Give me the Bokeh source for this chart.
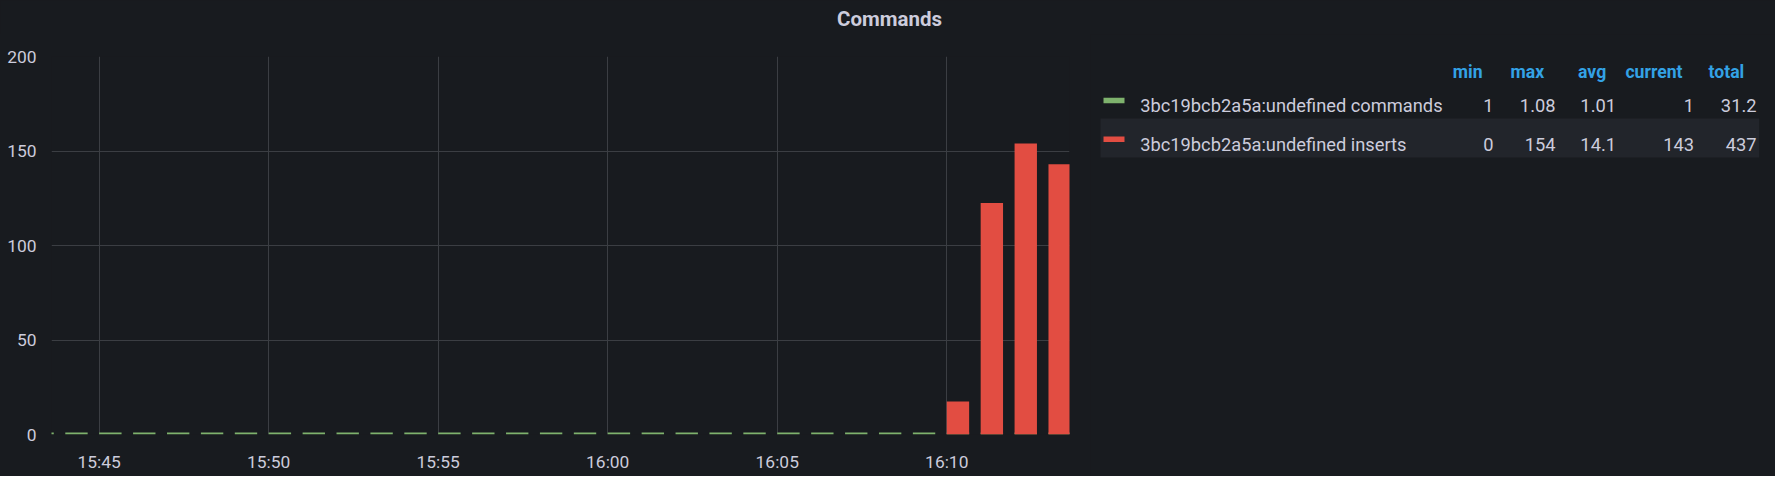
import pandas as pd
from bokeh.plotting import figure
from bokeh.models import Range1d, FixedTicker, DatetimeTickFormatter, ColumnDataSource
from bokeh.layouts import row, column
from bokeh.embed import file_html
from bokeh.resources import INLINE
from bokeh.core.properties import value

# ---------------- data ----------------
DAY = "2021-06-01 "
times = ["15:43", "15:44", "15:45", "15:46", "15:47", "15:48", "15:49", "15:50",
         "15:51", "15:52", "15:53", "15:54", "15:55", "15:56", "15:57", "15:58",
         "15:59", "16:00", "16:01", "16:02", "16:03", "16:04", "16:05", "16:06",
         "16:07", "16:08", "16:09", "16:10", "16:11", "16:12", "16:13"]
commands = [1, 1, 1, 1, 1, 1, 1, 1, 1, 1, 1, 1, 1, 1, 1, 1,
            1, 1, 1, 1, 1, 1, 1, 1, 1, 1, 1.03, 1.04, 1.08, 1.05, 1]
inserts = [0, 0, 0, 0, 0, 0, 0, 0, 0, 0, 0, 0, 0, 0, 0, 0,
           0, 0, 0, 0, 0, 0, 0, 0, 0, 0, 0, 17.5, 122.5, 154, 143]
x_tick_labels = ["15:45", "15:50", "15:55", "16:00", "16:05", "16:10"]
y_ticks = [0, 50, 100, 150, 200]

series_names = ["3bc19bcb2a5a:undefined commands", "3bc19bcb2a5a:undefined inserts"]
series_colors = ["#7eb26d", "#e24d42"]
stat_headers = ["min", "max", "avg", "current", "total"]
stat_min = ["1", "0"]
stat_max = ["1.08", "154"]
stat_avg = ["1.01", "14.1"]
stat_current = ["1", "143"]
stat_total = ["31.2", "437"]

TITLE = "Commands"

# ---------------- style ----------------
BG = "#181b1f"
GRID = "#3b3e43"
TEXT = "#ccccdc"
BLUE = "#33a2e5"
FONT = "Roboto"
BAR_MIN = 0.66  # bar width, fraction of a minute
W, H = 1775, 476
TH = 34          # title strip height
MW = 1090        # main chart figure width
DY = TH - 24     # vertical shift of legend contents vs. a 24px strip


def style_fig(f):
    if "frame_align" in f.properties():
        f.frame_align = False
    f.background_fill_color = BG
    f.border_fill_color = None          # avoid white seams from clearRect in SVG
    f.styles = {"background-color": BG}
    f.outline_line_color = None


# ---------------- title strip ----------------
tf = figure(width=W, height=TH, x_range=Range1d(0, W), y_range=Range1d(TH, 0),
            output_backend="svg", toolbar_location=None, min_border=0,
            x_axis_location=None, y_axis_location=None)
style_fig(tf)
tf.grid.visible = False
tf.text(x=[889], y=[18.5], text=[TITLE], text_font=value(FONT), text_font_style="bold",
        text_font_size=value("20.5px"), text_color=TEXT, text_align="center",
        text_baseline="alphabetic")

# ---------------- main chart ----------------
t = pd.to_datetime([DAY + s for s in times])
bw = pd.Timedelta(minutes=BAR_MIN)
src = ColumnDataSource(dict(left=t, right=t + bw, cmd=commands, ins=inserts))

x0 = pd.Timestamp(DAY + "15:43:35.6")
x1 = pd.Timestamp(DAY + "16:13:37.2")

p = figure(width=MW, height=H - TH, x_axis_type="datetime",
           x_range=Range1d(x0, x1), y_range=Range1d(0, 200),
           output_backend="svg", toolbar_location=None,
           min_border_left=51, min_border_right=MW - 1069, min_border_top=56 - TH,
           min_border_bottom=42)
style_fig(p)

p.quad(left="left", right="right", bottom=0, top="cmd", source=src,
       fill_color=series_colors[0], line_color=None)
p.quad(left="left", right="right", bottom=0, top="ins", source=src,
       fill_color=series_colors[1], line_color=None)

xt = [pd.Timestamp(DAY + s).value / 1e6 for s in x_tick_labels]
p.xaxis.ticker = FixedTicker(ticks=xt)
p.xaxis.formatter = DatetimeTickFormatter(minutes="%H:%M", hourmin="%H:%M", hours="%H:%M",
                                          minsec="%H:%M", seconds="%H:%M")
p.yaxis.ticker = FixedTicker(ticks=y_ticks)
for ax in (p.xaxis, p.yaxis):
    ax.axis_line_color = None
    ax.major_tick_line_color = None
    ax.minor_tick_line_color = None
    ax.major_label_text_color = TEXT
    ax.major_label_text_font = FONT
    ax.major_label_text_font_size = "17.4px"
p.xaxis.major_label_standoff = 11
p.yaxis.major_label_standoff = 9
p.xgrid.ticker = FixedTicker(ticks=xt)
p.ygrid.ticker = FixedTicker(ticks=y_ticks)
p.grid.grid_line_color = GRID
p.grid.grid_line_width = 1

# ---------------- legend table ----------------
LW, LH = W - MW, H - TH
lg = figure(width=LW, height=LH, x_range=Range1d(0, LW), y_range=Range1d(LH, 0),
            output_backend="svg", toolbar_location=None, min_border=0,
            x_axis_location=None, y_axis_location=None)
style_fig(lg)
lg.grid.visible = False

row_base = [81.3 - DY, 119.7 - DY]
row_mid = [76.0 - DY, 114.7 - DY]
# highlight of second row
lg.quad(left=10, right=668.7, top=94 - DY, bottom=133 - DY, fill_color="#22252b",
        line_color=None)
# swatches
lg.quad(left=[13, 13], right=[34, 34], top=[m - 2.7 for m in row_mid],
        bottom=[m + 2.7 for m in row_mid], fill_color=series_colors, line_color=None)
lg.text(x=[49.7, 49.7], y=row_base, text=series_names, text_font=value(FONT),
        text_font_size=value("18.3px"), text_color=TEXT, text_baseline="alphabetic",
        text_align="left")

head_right = [392, 453.7, 515.7, 592, 653.7]
lg.text(x=head_right, y=[47.3 - DY] * 5, text=stat_headers, text_font=value(FONT),
        text_font_style="bold", text_font_size=value("17.6px"), text_color=BLUE,
        text_baseline="alphabetic", text_align="right")

val_right = [403, 465, 525.5, 603.5, 666]
cols = [stat_min, stat_max, stat_avg, stat_current, stat_total]
for xr, col in zip(val_right, cols):
    lg.text(x=[xr, xr], y=row_base, text=col, text_font=value(FONT),
            text_font_size=value("18.3px"), text_color=TEXT,
            text_baseline="alphabetic", text_align="right")

layout = column(tf, row(p, lg, spacing=0), spacing=0)
open("out.html", "w").write(file_html(layout, INLINE))
